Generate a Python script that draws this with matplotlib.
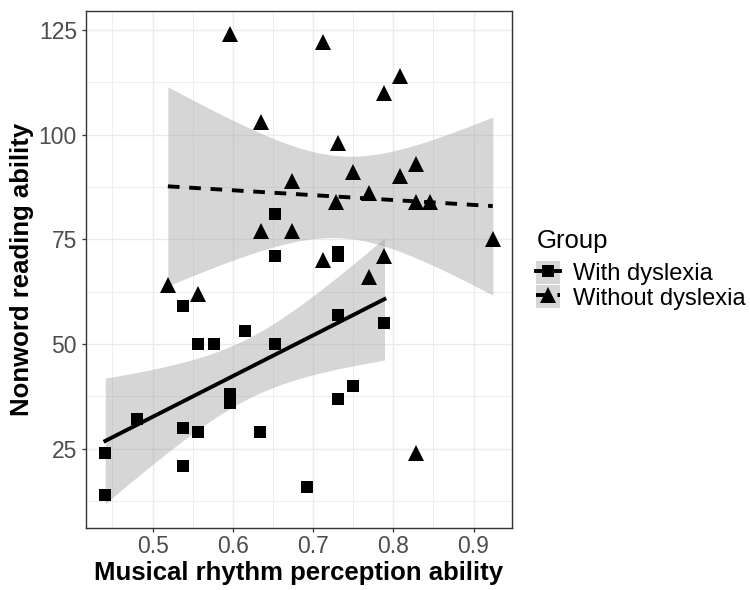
import numpy as np
import matplotlib
matplotlib.use("Agg")
import matplotlib.pyplot as plt
from matplotlib.lines import Line2D
from matplotlib.patches import Patch
from matplotlib.ticker import MultipleLocator

plt.rcParams['font.family'] = ['Liberation Sans', 'DejaVu Sans']

# With dyslexia (squares)
dys_x = [0.441, 0.441, 0.48, 0.538, 0.538, 0.538, 0.557, 0.557, 0.576, 0.615,
         0.596, 0.596, 0.653, 0.653, 0.653, 0.634, 0.692, 0.731, 0.731, 0.731,
         0.731, 0.75, 0.789]
dys_y = [14, 24, 32, 59, 30, 21, 29, 50, 50, 53,
         38, 36, 50, 71, 81, 29, 16, 57, 72, 71,
         37, 40, 55]

# Without dyslexia (triangles)
ctl_x = [0.597, 0.712, 0.808, 0.789, 0.635, 0.731, 0.75, 0.828, 0.808, 0.674,
         0.77, 0.729, 0.828, 0.846, 0.635, 0.674, 0.924, 0.712, 0.789, 0.77,
         0.519, 0.557, 0.828]
ctl_y = [124, 122, 114, 110, 103, 98, 91, 93, 90, 89,
         86, 84, 84, 84, 77, 77, 75, 70, 71, 66,
         64, 62, 24]

groups = ["With dyslexia", "Without dyslexia"]
T_CRIT = 2.0796  # t(0.975, df=21)


def smooth(x, y, n=80):
    # linear fit with 95% confidence band, like geom_smooth(method="lm")
    x = np.asarray(x, float)
    y = np.asarray(y, float)
    b, a = np.polyfit(x, y, 1)
    resid = y - (a + b * x)
    s = np.sqrt(np.sum(resid ** 2) / (len(x) - 2))
    xs = np.linspace(x.min(), x.max(), n)
    se = s * np.sqrt(1 / len(x) + (xs - x.mean()) ** 2 / np.sum((x - x.mean()) ** 2))
    fit = a + b * xs
    return xs, fit, fit - T_CRIT * se, fit + T_CRIT * se


fig = plt.figure(figsize=(7.5, 5.9), dpi=100)
ax = fig.add_axes([0.1147, 0.1051, 0.568, 0.8763])

band = '#999999'
dash = (0, (3, 2.5))
styles = [('s', '-', 9), ('^', dash, 11)]
for (gx, gy), (mk, ls, ms) in zip([(dys_x, dys_y), (ctl_x, ctl_y)], styles):
    xs, fit, lo, hi = smooth(gx, gy)
    ax.fill_between(xs, lo, hi, color=band, alpha=0.4, lw=0, zorder=2)
    ax.plot(gx, gy, ls='none', marker=mk, ms=ms, color='black', mew=0, zorder=3)
    ax.plot(xs, fit, color='black', lw=2.8, ls=ls, zorder=4)

ax.set_xlim(0.417, 0.948)
ax.set_ylim(6.1, 129.5)
ax.xaxis.set_minor_locator(MultipleLocator(0.05))
ax.yaxis.set_minor_locator(MultipleLocator(12.5))
ax.set_xticks([0.5, 0.6, 0.7, 0.8, 0.9])
ax.set_xticklabels(['0.5', '0.6', '0.7', '0.8', '0.9'])
ax.set_yticks([25, 50, 75, 100, 125])
ax.grid(which='major', color='#EBEBEB', lw=1.0, zorder=0)
ax.grid(which='minor', color='#EBEBEB', lw=0.6, zorder=0)
ax.set_axisbelow(True)
for sp in ax.spines.values():
    sp.set_color('#333333')
    sp.set_linewidth(1.0)
ax.tick_params(which='major', length=3, width=0.9, color='#333333',
               labelsize=16.5, labelcolor='#4D4D4D')
ax.tick_params(axis='x', pad=2)
ax.tick_params(axis='y', pad=3.5)
ax.tick_params(which='minor', length=0)

ax.set_xlabel('Musical rhythm perception ability', fontsize=18.5,
              fontweight='bold', labelpad=2)
ax.set_ylabel('Nonword reading ability', fontsize=18.5,
              fontweight='bold', labelpad=3.5)

fill = '#D6D6D6'
handles = [
    (Patch(facecolor=fill, edgecolor='none'),
     Line2D([], [], color='black', lw=2.8, ls='-', marker='s', ms=9, mew=0)),
    (Patch(facecolor=fill, edgecolor='none'),
     Line2D([], [], color='black', lw=2.8, ls=dash, marker='^', ms=11, mew=0)),
]
fig.text(537 / 750, 1 - 248 / 590, 'Group', fontsize=18.5, va='baseline', ha='left')
fig.legend(handles, groups, loc='upper left', bbox_to_anchor=(0.702, 0.5736),
           frameon=False, fontsize=17, handlelength=1.02, handleheight=1.1,
           labelspacing=0.0, handletextpad=0.55, borderpad=0.4,
           borderaxespad=0.0)

fig.savefig('out.png', dpi=100)
